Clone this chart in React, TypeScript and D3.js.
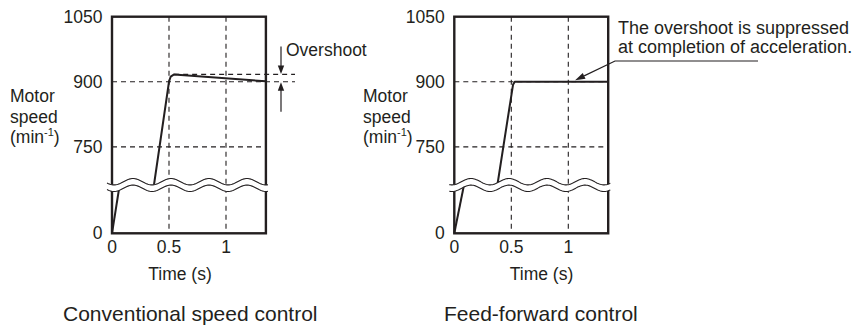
import React, { useEffect } from 'react';
import * as d3 from 'd3';

// ---- data ----
const timeTicks = [0, 0.5, 1];
const timeTickLabels = ['0', '0.5', '1'];
const speedTicks = [0, 750, 900, 1050];
const speedTickLabels = ['0', '750', '900', '1050'];

const conventionalTime = [0, 0.067, 0.368, 0.5, 0.515, 0.545, 1.35];
const conventionalSpeed = [0, 120, 662, 900, 912, 917, 901];

const feedForwardTime = [0, 0.085, 0.378, 0.515, 0.53, 1.35];
const feedForwardSpeed = [0, 120, 662, 893, 900, 900];

const overshootPeak = 917;
const TIME_MAX = 1.35;
const SPEED_MAX = 1050;
const BREAK_LOW = 120;
const BREAK_HIGH = 662;

const INK = '#231f20';
const FONT = '"Liberation Sans", Arial, Helvetica, sans-serif';

const TOP = 16.7;
const BOTTOM = 233.3;
const BREAK_Y = 185;
const PLOT_W = 153.9;

function makeScales(left: number) {
  const x = d3.scaleLinear().domain([0, TIME_MAX]).range([left, left + PLOT_W]);
  const y = d3
    .scaleLinear()
    .domain([0, BREAK_LOW, BREAK_HIGH, SPEED_MAX])
    .range([BOTTOM, BREAK_Y, BREAK_Y, TOP]);
  return { x, y };
}

function wavePts(x0: number, x1: number, c: number, crest: number, amp = 3.2, period = 38) {
  const pts: [number, number][] = [];
  for (let xx = x0; xx <= x1 + 0.001; xx += 1) {
    pts.push([xx, c - amp * Math.cos((2 * Math.PI * (xx - crest)) / period)]);
  }
  return pts;
}

function Panel({
  left,
  time,
  speed,
  crest,
  yLabelX,
  timeLabelX,
  caption,
  captionX,
  extend900,
}: {
  left: number;
  time: number[];
  speed: number[];
  crest: number;
  yLabelX: number;
  timeLabelX: number;
  caption: string;
  captionX: number;
  extend900: number;
}) {
  const { x, y } = makeScales(left);
  const right = x(TIME_MAX);
  const pts = time.map((t, i) => [t, speed[i]] as [number, number]);
  const lower = pts.filter((p) => p[1] <= BREAK_LOW);
  const upper = pts.filter((p) => p[1] >= BREAK_HIGH);
  const line = d3
    .line<[number, number]>()
    .x((d) => x(d[0]))
    .y((d) => y(d[1]));

  const wx0 = left - 5;
  const wx1 = right + 2.5;
  const up = wavePts(wx0, wx1, BREAK_Y - 3.3, crest);
  const lo = wavePts(wx0, wx1, BREAK_Y + 3.3, crest);
  const band = 'M' + up.map((p) => p.join(',')).join('L') + 'L' + lo.slice().reverse().map((p) => p.join(',')).join('L') + 'Z';
  const wl = d3.line();

  return (
    <g>
      {/* vertical gridlines */}
      {timeTicks
        .filter((t) => t > 0)
        .map((t) => (
          <line key={'vg' + t} x1={x(t)} x2={x(t)} y1={TOP} y2={BOTTOM} stroke={INK} strokeWidth={1.1} strokeDasharray="5,4" />
        ))}
      {/* horizontal gridlines */}
      {speedTicks
        .filter((v) => v > 0 && v < SPEED_MAX)
        .map((v) => (
          <line
            key={'hg' + v}
            x1={left}
            x2={v === 900 ? extend900 : right}
            y1={y(v)}
            y2={y(v)}
            stroke={INK}
            strokeWidth={1.1}
            strokeDasharray="5,4"
          />
        ))}
      {/* frame */}
      <rect x={left} y={TOP} width={right - left} height={BOTTOM - TOP} fill="none" stroke={INK} strokeWidth={2.4} />
      {/* data */}
      <path d={line(lower) || ''} fill="none" stroke={INK} strokeWidth={2} />
      <path d={line(upper) || ''} fill="none" stroke={INK} strokeWidth={2} strokeLinejoin="round" />
      {/* axis break */}
      <path d={band} fill="#fff" stroke="none" />
      <path d={wl(up) || ''} fill="none" stroke={INK} strokeWidth={1.1} />
      <path d={wl(lo) || ''} fill="none" stroke={INK} strokeWidth={1.1} />
      {/* tick labels */}
      {speedTicks.map((v, i) => (
        <text key={'yl' + v} x={left - 9.5} y={y(v)} dy="0.35em" textAnchor="end" fontSize={17.5} fill={INK} fontFamily={FONT}>
          {speedTickLabels[i]}
        </text>
      ))}
      {timeTicks.map((t, i) => (
        <text key={'xl' + t} x={x(t)} y={253} textAnchor="middle" fontSize={17.5} fill={INK} fontFamily={FONT}>
          {timeTickLabels[i]}
        </text>
      ))}
      {/* axis titles */}
      <text x={yLabelX} fontSize={17.5} fill={INK} fontFamily={FONT}>
        <tspan x={yLabelX} y={102}>Motor</tspan>
        <tspan x={yLabelX} y={122.5}>speed</tspan>
        <tspan x={yLabelX} y={143}>(min</tspan>
        <tspan fontSize={11} dy={-7}>-1</tspan>
        <tspan dy={7}>)</tspan>
      </text>
      <text x={timeLabelX} y={279.5} textAnchor="middle" fontSize={17.5} fill={INK} fontFamily={FONT}>
        Time (s)
      </text>
      <text x={captionX} y={321} fontSize={21} fill={INK} fontFamily={FONT}>
        {caption}
      </text>
    </g>
  );
}

export default function App() {
  useEffect(() => {
    document.body.style.margin = '0';
  }, []);

  const L = makeScales(112);
  const R = makeScales(454.3);
  const ovY = L.y(overshootPeak);
  const y900 = L.y(900);
  const ax = 281;

  // leader arrow (right panel)
  const tipX = R.x(1.06);
  const tipY = R.y(900) - 1.5;
  const elbowX = 615;
  const elbowY = 61;
  const ang = Math.atan2(elbowY - tipY, elbowX - tipX);
  const hl = 10;
  const hw = 3.2;
  const bx = tipX + hl * Math.cos(ang);
  const by = tipY + hl * Math.sin(ang);
  const head = `M${tipX},${tipY}L${bx - hw * Math.sin(ang)},${by + hw * Math.cos(ang)}L${bx + hw * Math.sin(ang)},${by - hw * Math.cos(ang)}Z`;

  return (
    <svg width={862} height={329} style={{ position: 'absolute', left: 0, top: 0, background: '#fff' }}>
      <rect width={862} height={329} fill="#fff" />
      <Panel
        left={112}
        time={conventionalTime}
        speed={conventionalSpeed}
        crest={133}
        yLabelX={10}
        timeLabelX={180}
        caption="Conventional speed control"
        captionX={63}
        extend900={295}
      />
      <Panel
        left={454.3}
        time={feedForwardTime}
        speed={feedForwardSpeed}
        crest={471}
        yLabelX={363}
        timeLabelX={541.5}
        caption="Feed-forward control"
        captionX={444}
        extend900={R.x(TIME_MAX)}
      />
      {/* overshoot annotation */}
      <line x1={L.x(0.545)} x2={295} y1={ovY} y2={ovY} stroke={INK} strokeWidth={1.1} strokeDasharray="5,4" />
      <line x1={ax} x2={ax} y1={46.5} y2={ovY - 6} stroke={INK} strokeWidth={1.2} />
      <path d={`M${ax},${ovY - 0.5}L${ax - 3.2},${ovY - 9}L${ax + 3.2},${ovY - 9}Z`} fill={INK} />
      <line x1={ax} x2={ax} y1={111.7} y2={y900 + 6} stroke={INK} strokeWidth={1.2} />
      <path d={`M${ax},${y900 + 0.5}L${ax - 3.2},${y900 + 9}L${ax + 3.2},${y900 + 9}Z`} fill={INK} />
      <text x={286} y={56} fontSize={17.5} fill={INK} fontFamily={FONT}>
        Overshoot
      </text>
      {/* feed-forward annotation */}
      <text x={618} y={33.5} fontSize={18} fill={INK} fontFamily={FONT}>
        The overshoot is suppressed
      </text>
      <text x={618} y={53} fontSize={18} fill={INK} fontFamily={FONT}>
        at completion of acceleration.
      </text>
      <path d={`M758,${elbowY}L${elbowX},${elbowY}L${bx},${by}`} fill="none" stroke={INK} strokeWidth={1.2} />
      <path d={head} fill={INK} />
    </svg>
  );
}
